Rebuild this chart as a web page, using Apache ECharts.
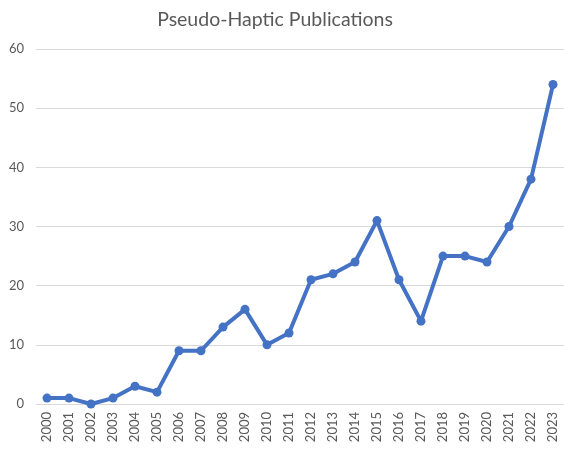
<!DOCTYPE html>
<html>
<head>
<meta charset="utf-8">
<script src="https://cdn.jsdelivr.net/npm/echarts@6/dist/echarts.min.js"></script>
<style>
  html, body { margin: 0; padding: 0; background: #fff; }
  #chart { width: 564px; height: 449px; }
</style>
</head>
<body>
<div id="chart"></div>
<script>
const years = ['2000', '2001', '2002', '2003', '2004', '2005', '2006', '2007', '2008', '2009', '2010', '2011',
  '2012', '2013', '2014', '2015', '2016', '2017', '2018', '2019', '2020', '2021', '2022', '2023']
const publications = [1, 1, 0, 1, 3, 2, 9, 9, 13, 16, 10, 12, 21, 22, 24, 31, 21, 14, 25, 25, 24, 30, 38, 54]

const chart = echarts.init(document.getElementById('chart'))
chart.setOption({
  animation: false,
  textStyle: { fontFamily: 'Lato, "Open Sans", sans-serif' },
  title: {
    text: 'Pseudo-Haptic Publications',
    left: 270,
    textAlign: 'center',
    top: 5,
    textStyle: { fontSize: 19.5, fontWeight: 'normal', color: '#595959', fontFamily: 'Lato, sans-serif' }
  },
  // plot runs a little past the right edge, as in the original crop
  grid: { left: 36, width: 531, top: 49, bottom: 45 },
  xAxis: {
    type: 'category',
    data: years,
    axisLine: { lineStyle: { color: '#d9d9d9', width: 1 } },
    axisTick: { show: false },
    axisLabel: { rotate: 90, color: '#595959', fontSize: 13, margin: 8 }
  },
  yAxis: {
    type: 'value',
    min: 0,
    max: 60,
    interval: 10,
    axisLine: { show: false },
    axisTick: { show: false },
    splitLine: { lineStyle: { color: '#d9d9d9', width: 1 } },
    axisLabel: { color: '#595959', fontSize: 13, margin: 12 }
  },
  series: [{
    type: 'line',
    data: publications,
    symbol: 'circle',
    symbolSize: 9,
    lineStyle: { color: '#4472C4', width: 4 },
    itemStyle: { color: '#4472C4' }
  }]
})
</script>
</body>
</html>
